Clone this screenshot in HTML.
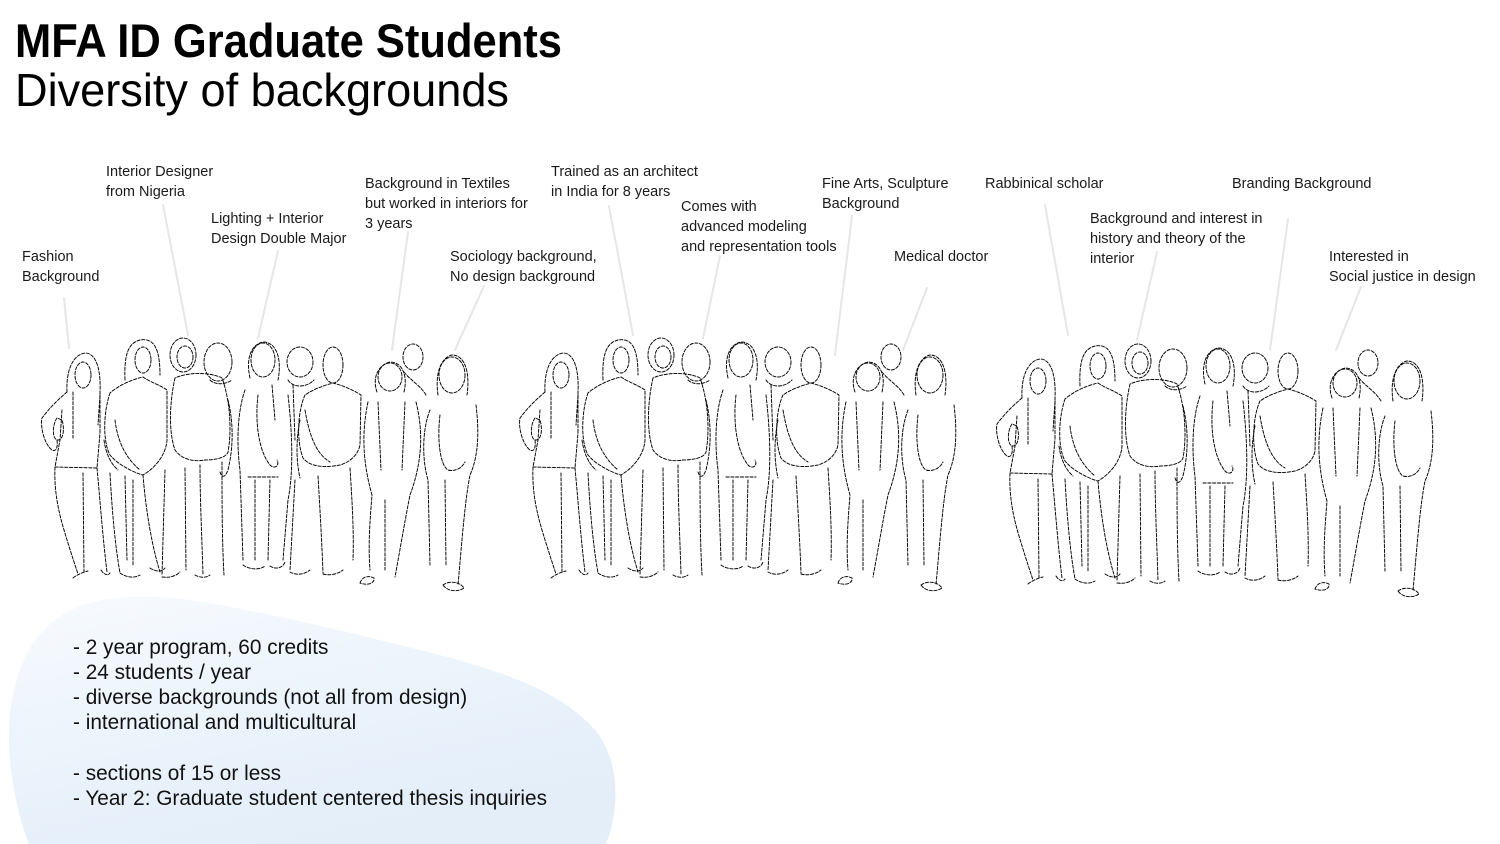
<!DOCTYPE html>
<html>
<head>
<meta charset="utf-8">
<style>
  html,body{margin:0;padding:0;background:#fff;}
  body{width:1500px;height:844px;overflow:hidden;}
  svg{display:block;}
  .lbl{font-family:"Liberation Sans",Arial,sans-serif;font-size:14.5px;fill:#1a1a1a;}
  .bul{font-family:"Liberation Sans",Arial,sans-serif;font-size:20.8px;fill:#111;}
  .con{stroke:#e6e6e6;stroke-width:2;fill:none;stroke-linecap:round;}
  .fig{fill:none;stroke:#000;stroke-width:0.95;stroke-dasharray:3.2 1.6;stroke-linecap:round;stroke-linejoin:round;}
</style>
</head>
<body>
<svg width="1500" height="844" viewBox="0 0 1500 844" xmlns="http://www.w3.org/2000/svg">
  <defs>
    <linearGradient id="bg" x1="0" y1="0" x2="0.5" y2="1">
      <stop offset="0" stop-color="#f8fbfe"/>
      <stop offset="0.4" stop-color="#eef5fc"/>
      <stop offset="1" stop-color="#e3eef9"/>
    </linearGradient>
    <g id="grp">
      <!-- Person A -->
      <path class="fig" d="M67,392 C66,372 72,355 85,353 C97,353 101,372 100,392 L100,433"/>
      <ellipse class="fig" cx="83" cy="375" rx="8" ry="13"/>
      <path class="fig" d="M67,392 C60,398 52,405 42,418 C40,428 45,445 52,450 C56,452 58,448 57,440"/>
      <path class="fig" d="M62,410 L60,440 L55,467 L97,468 L100,433"/>
      <path class="fig" d="M57,418 C52,425 52,440 58,440 C63,440 65,430 62,420 Z"/>
      <path class="fig" d="M73,392 L73,438 M100,395 L98,425"/>
      <path class="fig" d="M55,467 C54,490 58,510 64,530 C70,550 75,565 78,574 M83,473 L84,572 M97,468 C100,500 103,540 107,572 M73,578 C78,574 84,572 88,571 M101,570 C104,575 108,576 110,573"/>
      <!-- Person B -->
      <path class="fig" d="M125,380 C124,355 128,343 140,340 C152,338 160,345 160,375"/>
      <ellipse class="fig" cx="143" cy="360" rx="8" ry="13"/>
      <path class="fig" d="M110,393 C104,410 102,440 110,455 C118,465 135,473 143,475 C155,468 166,455 167,440 L167,390 C160,385 150,382 143,377 C130,380 118,386 110,393 Z"/>
      <path class="fig" d="M115,420 C118,445 128,460 140,470 M104,440 C106,455 112,465 118,470"/>
      <path class="fig" d="M110,473 C112,510 115,545 120,573 M143,475 C145,500 150,540 160,572 M125,476 L127,560 M120,573 C127,578 135,578 140,575 M133,480 L133,565 M150,568 C156,572 162,572 165,568"/>
      <!-- Person C -->
      <ellipse class="fig" cx="183" cy="355" rx="13" ry="17"/>
      <ellipse class="fig" cx="185" cy="357" rx="8" ry="11"/>
      <path class="fig" d="M175,378 C170,400 168,430 175,450 C182,460 195,462 205,460 C215,460 226,458 228,452 C232,430 230,400 222,378 C210,372 188,372 175,378 Z"/>
      <path class="fig" d="M228,400 C233,420 234,445 228,470 C225,478 222,478 220,472"/>
      <path class="fig" d="M165,470 L162,575 M200,465 C200,500 202,540 203,575 M222,462 C222,500 222,540 224,575 M185,468 L186,570 M162,577 C170,578 176,576 180,572 M195,575 C200,578 206,578 210,575"/>
      <!-- Person D -->
      <ellipse class="fig" cx="218" cy="362" rx="14" ry="19"/>
      <path class="fig" d="M210,380 C215,385 225,385 232,380"/>
      <!-- Person E -->
      <ellipse class="fig" cx="263" cy="360" rx="12" ry="17"/>
      <path class="fig" d="M250,378 C246,360 250,345 263,342 C277,342 282,360 278,380"/>
      <path class="fig" d="M245,390 C238,410 236,440 240,470 L243,560 M288,395 C292,430 294,470 288,500 L283,560 M248,477 L278,477 M255,480 L255,560 M270,480 L268,560"/>
      <path class="fig" d="M258,395 C255,420 258,450 270,465 C275,470 280,465 277,460 M272,385 L275,420"/>
      <path class="fig" d="M243,565 C250,570 260,570 265,566 M270,566 C276,570 283,568 285,562"/>
      <!-- Person F -->
      <ellipse class="fig" cx="300" cy="362" rx="13" ry="15"/>
      <path class="fig" d="M288,380 C293,388 306,388 314,380 M293,385 L295,440"/>
      <!-- Person G -->
      <ellipse class="fig" cx="333" cy="365" rx="10" ry="18"/>
      <path class="fig" d="M305,395 C298,410 296,440 303,458 C310,467 325,468 340,465 C350,462 358,455 360,445 L361,395 C350,388 340,385 333,383 C322,386 312,390 305,395 Z"/>
      <path class="fig" d="M300,420 C296,440 296,460 300,478 M305,410 C310,440 318,455 330,462"/>
      <path class="fig" d="M295,480 L290,570 M318,476 C320,510 322,545 323,573 M350,468 C352,500 354,530 353,560 M290,572 C297,576 305,574 310,570 M323,574 C330,576 338,574 343,570"/>
      <!-- Person H -->
      <ellipse class="fig" cx="390" cy="377" rx="12" ry="14"/>
      <path class="fig" d="M377,392 C372,378 378,365 390,362 C402,362 408,375 404,392"/>
      <path class="fig" d="M368,402 C362,430 362,460 372,495 C370,520 368,545 370,570 M416,402 C423,430 423,460 410,495 C405,520 400,550 395,577 M378,402 L381,470 M405,402 L402,470 M385,500 L385,570"/>
      <path class="fig" d="M360,583 C362,577 368,575 374,578 C375,583 368,586 360,583 Z"/>
      <!-- Person I -->
      <ellipse class="fig" cx="413" cy="357" rx="10" ry="13"/>
      <path class="fig" d="M404,372 C410,380 420,385 426,395"/>
      <!-- Person J -->
      <ellipse class="fig" cx="452" cy="375" rx="13" ry="18"/>
      <path class="fig" d="M438,395 C435,375 440,358 452,355 C466,355 470,375 467,395"/>
      <path class="fig" d="M430,410 C422,430 422,460 428,480 L430,565 M476,405 C479,430 479,455 470,475 C465,500 462,540 458,585 M440,415 C437,440 440,465 448,470 C455,472 462,468 465,462 M445,480 L446,565"/>
      <path class="fig" d="M443,585 C450,580 460,582 464,588 C458,592 448,592 443,585 Z"/>
    </g>
  </defs>

  <!-- Blob -->
  <path d="M29,844 C12,800 4,740 12,700 C20,655 40,622 80,606 C120,592 170,596 210,603 C280,616 340,630 420,650 C500,670 560,690 595,730 C620,760 620,810 606,844 Z" fill="url(#bg)"/>

  <!-- Title -->
  <text x="15" y="57" font-family="Liberation Sans, Arial, sans-serif" font-weight="bold" font-size="47" fill="#000" textLength="547" lengthAdjust="spacingAndGlyphs">MFA ID Graduate Students</text>
  <text x="15" y="106" font-family="Liberation Sans, Arial, sans-serif" font-size="46" fill="#000" textLength="494" lengthAdjust="spacingAndGlyphs">Diversity of backgrounds</text>

  <!-- Connector lines -->
  <line class="con" x1="64" y1="298" x2="69" y2="348"/>
  <line class="con" x1="163" y1="205" x2="188" y2="335"/>
  <line class="con" x1="278" y1="251" x2="258" y2="338"/>
  <line class="con" x1="408" y1="232" x2="392" y2="350"/>
  <line class="con" x1="484" y1="286" x2="455" y2="350"/>
  <line class="con" x1="609" y1="206" x2="633" y2="335"/>
  <line class="con" x1="720" y1="256" x2="703" y2="338"/>
  <line class="con" x1="852" y1="216" x2="835" y2="355"/>
  <line class="con" x1="927" y1="288" x2="903" y2="350"/>
  <line class="con" x1="1045" y1="205" x2="1068" y2="335"/>
  <line class="con" x1="1157" y1="252" x2="1137" y2="340"/>
  <line class="con" x1="1288" y1="219" x2="1270" y2="350"/>
  <line class="con" x1="1361" y1="287" x2="1336" y2="350"/>

  <!-- Labels -->
  <text class="lbl" x="106" y="176">Interior Designer</text>
  <text class="lbl" x="106" y="196">from Nigeria</text>
  <text class="lbl" x="22" y="261">Fashion</text>
  <text class="lbl" x="22" y="281">Background</text>
  <text class="lbl" x="211" y="223">Lighting + Interior</text>
  <text class="lbl" x="211" y="243">Design Double Major</text>
  <text class="lbl" x="365" y="188">Background in Textiles</text>
  <text class="lbl" x="365" y="208">but worked in interiors for</text>
  <text class="lbl" x="365" y="228">3 years</text>
  <text class="lbl" x="450" y="261">Sociology background,</text>
  <text class="lbl" x="450" y="281">No design background</text>
  <text class="lbl" x="551" y="176">Trained as an architect</text>
  <text class="lbl" x="551" y="196">in India for 8 years</text>
  <text class="lbl" x="681" y="211">Comes with</text>
  <text class="lbl" x="681" y="231">advanced modeling</text>
  <text class="lbl" x="681" y="251">and representation tools</text>
  <text class="lbl" x="822" y="188">Fine Arts, Sculpture</text>
  <text class="lbl" x="822" y="208">Background</text>
  <text class="lbl" x="894" y="261">Medical doctor</text>
  <text class="lbl" x="985" y="188">Rabbinical scholar</text>
  <text class="lbl" x="1090" y="223">Background and interest in</text>
  <text class="lbl" x="1090" y="243">history and theory of the</text>
  <text class="lbl" x="1090" y="263">interior</text>
  <text class="lbl" x="1232" y="188">Branding Background</text>
  <text class="lbl" x="1329" y="261">Interested in</text>
  <text class="lbl" x="1329" y="281">Social justice in design</text>

  <!-- Figures -->
  <use href="#grp" x="0" y="0"/>
  <use href="#grp" x="478" y="0"/>
  <use href="#grp" x="955" y="6"/>

  <!-- Bullets -->
  <text class="bul" x="73" y="654">- 2 year program, 60 credits</text>
  <text class="bul" x="73" y="679">- 24 students / year</text>
  <text class="bul" x="73" y="704">- diverse backgrounds (not all from design)</text>
  <text class="bul" x="73" y="729">- international and multicultural</text>
  <text class="bul" x="73" y="780">- sections of 15 or less</text>
  <text class="bul" x="73" y="805">- Year 2: Graduate student centered thesis inquiries</text>
</svg>
</body>
</html>
